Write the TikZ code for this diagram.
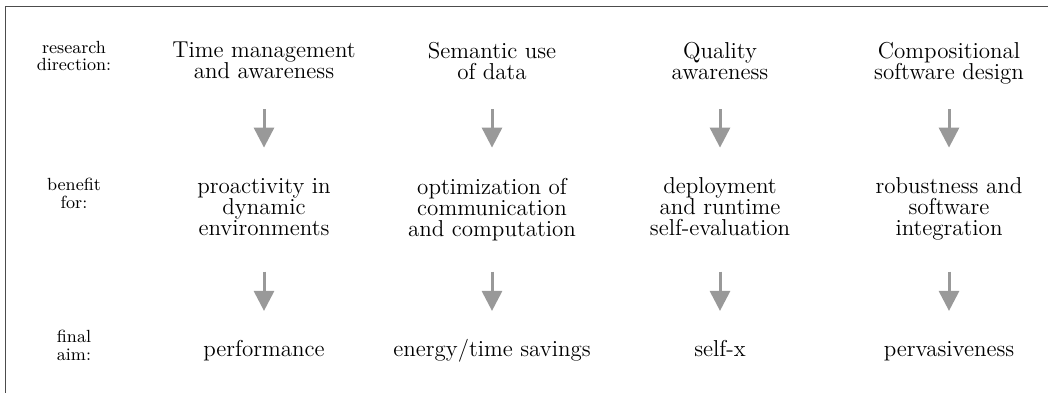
\documentclass[tikz,border=0pt]{standalone}
\usetikzlibrary{arrows.meta}
\begin{document}
\begin{tikzpicture}[x=0.5pt,y=-0.5pt,
  txt/.style={inner sep=0pt, align=center, anchor=north, font=\fontsize{11.5}{10.5}\selectfont},
  lbl/.style={inner sep=0pt, align=center, anchor=north, font=\fontsize{8.8}{8.6}\selectfont},
  arr/.style={draw=black!40, line width=1.5pt, -{Triangle[length=10pt,width=10pt]}, black!40}]
\clip (0,0) rectangle (1048,392);
\draw[black!70, line width=0.6pt] (5.5,6.5) rectangle (1100,450);
% row labels
\node[lbl] (l1) at (74,41) {research\\direction:};
\node[lbl] (l2) at (74,178) {benefit\\for:};
\node[lbl] (l3) at (74,330) {final\\aim:};
% research directions
\node[txt] (t1) at (264,41.5) {Time management\\and awareness};
\node[txt] (t2) at (492,41.5) {Semantic use\\of data};
\node[txt] (t3) at (720,41.5) {Quality\\awareness};
\node[txt] (t4) at (949,41.5) {Compositional\\software design};
% benefits
\node[txt] (b1) at (264,177.6) {proactivity in\\dynamic\\environments};
\node[txt] (b2) at (492,177.6) {optimization of\\communication\\and computation};
\node[txt] (b3) at (720,177.6) {deployment\\and runtime\\self-evaluation};
\node[txt] (b4) at (949,177.6) {robustness and\\software\\integration};
% final aims
\node[txt,anchor=base] (c1) at (264,356.5) {performance};
\node[txt,anchor=base] (c2) at (492,356.5) {energy/time savings};
\node[txt,anchor=base] (c3) at (720,356.5) {self-x};
\node[txt,anchor=base] (c4) at (949,356.5) {pervasiveness};
% arrows
\foreach \i in {1,...,4}{
  \draw[arr, shorten <=15pt, shorten >=15pt] (t\i.south |- t1.south) -- (b\i.north |- b1.north);
  \draw[arr, shorten <=18pt, shorten >=14.5pt] (b\i.south |- b1.south) -- (c\i.north |- c1.north);
}
\end{tikzpicture}
\end{document}
